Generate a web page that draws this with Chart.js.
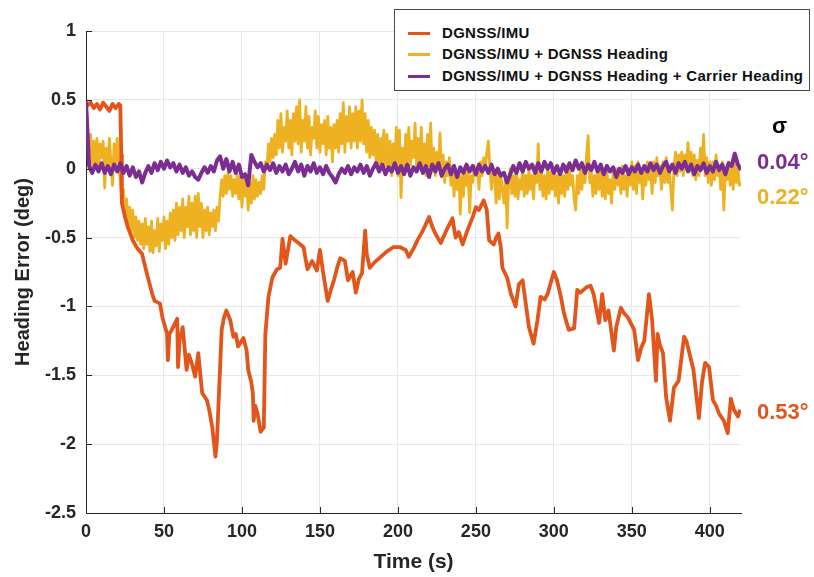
<!DOCTYPE html>
<html>
<head>
<meta charset="utf-8">
<script src="https://cdn.jsdelivr.net/npm/chart.js@4.4.1/dist/chart.umd.min.js"></script>
<style>
  html,body{margin:0;padding:0;background:#fff;}
  #wrap{position:relative;width:814px;height:577px;overflow:hidden;}
  #c{position:absolute;left:0;top:0;}
  #legend{position:absolute;left:394px;top:9px;width:416px;height:82px;border:1px solid #4a4a4a;background:#fff;
    font:bold 15px "Liberation Sans",Arial,sans-serif;letter-spacing:0.3px;color:#111;box-sizing:border-box;}
  .row{position:absolute;left:0;height:20px;line-height:20px;white-space:nowrap;}
  .sw{position:absolute;left:13px;top:9px;width:22px;height:3px;}
  .lt{position:absolute;left:47px;top:0;}
  .sig{position:absolute;font:bold 22px "Liberation Sans",Arial,sans-serif;white-space:nowrap;line-height:24px;}
</style>
</head>
<body>
<div id="wrap">
<canvas id="c" width="814" height="577"></canvas>
<div id="legend"></div>
<div class="sig" id="sgm" style="left:772px;top:114px;color:#000;">σ</div>
<div class="sig" id="s2" style="left:757px;top:150px;"></div>
<div class="sig" id="s1" style="left:757px;top:185px;"></div>
<div class="sig" id="s0" style="left:757px;top:400px;"></div>
</div>
<script>
// ---------- data ----------
const seriesNames = ["DGNSS/IMU", "DGNSS/IMU + DGNSS Heading", "DGNSS/IMU + DGNSS Heading + Carrier Heading"];
const seriesColors = ["#E2561C", "#EEB122", "#7B2D92"];
const sigmaLabels = ["0.53°", "0.22°", "0.04°"];
const xTicks = [0, 50, 100, 150, 200, 250, 300, 350, 400];
const yTicks = [-2.5, -2, -1.5, -1, -0.5, 0, 0.5, 1];

// DGNSS/IMU (time, value)
const imuTime = [0,1,3,5,7,9,11,13,15,17,19,21,22,22.6,23,25,27,30,33,36,39,42.5,44,47.5,49,52,52.5,53.5,55,58.5,59,60,62,64.5,66,68,70,72,74.5,77.5,79,81,83,84,85,86,87,88.5,90,92.5,94.5,96,97.5,101,103,104,106,107,107.5,108.5,110,112,114,115,117,119.5,122.5,124.5,126,127,128,131,134,137.5,139.5,142,145,148,150,152,155,157,159,161,163,166,168,171,173,175,177,179,180,182,185,189,193,197,201.5,205,207,210,212.5,216,220,222,224,227.5,231,235,237,239,241.5,244.5,248,250,252,255,257,258.5,261.5,263,264.5,266,267,270,272.5,275.5,277.5,280,282,284,287,289.5,291.5,294,296,300,302,304.5,306.5,309.5,313,315,317,319,321,323.5,325.5,329,331,333,335,338.5,340,343,345,347.5,351.5,354,356,358,361,363,365.5,366.5,368,370,372,374.5,377,380,383.5,385,386.5,389.5,393,395,397,399.5,402,404,406,409,411.5,413.5,415.5,418,419.5];
const imuErr = [0.49,0.46,0.48,0.44,0.47,0.43,0.48,0.45,0.42,0.47,0.44,0.47,0.46,0.1,-0.25,-0.35,-0.43,-0.52,-0.58,-0.62,-0.76,-0.91,-0.96,-0.98,-1.08,-1.2,-1.39,-1.2,-1.17,-1.09,-1.44,-1.25,-1.15,-1.46,-1.35,-1.42,-1.51,-1.34,-1.63,-1.68,-1.75,-1.88,-2.09,-1.97,-1.7,-1.44,-1.17,-1.08,-1.03,-1.1,-1.22,-1.2,-1.29,-1.23,-1.32,-1.46,-1.55,-1.63,-1.83,-1.72,-1.78,-1.91,-1.88,-1.2,-0.93,-0.79,-0.73,-0.72,-0.51,-0.6,-0.69,-0.49,-0.52,-0.55,-0.57,-0.73,-0.67,-0.74,-0.59,-0.75,-0.96,-0.88,-0.81,-0.72,-0.65,-0.67,-0.81,-0.75,-0.9,-0.8,-0.76,-0.45,-0.62,-0.72,-0.68,-0.64,-0.6,-0.57,-0.57,-0.59,-0.64,-0.58,-0.52,-0.45,-0.35,-0.42,-0.47,-0.54,-0.45,-0.36,-0.5,-0.46,-0.55,-0.45,-0.35,-0.28,-0.3,-0.23,-0.3,-0.52,-0.55,-0.5,-0.47,-0.57,-0.72,-0.79,-0.91,-1.0,-0.84,-0.81,-0.98,-1.15,-1.27,-1.1,-0.93,-0.95,-0.91,-0.75,-0.81,-0.93,-1.05,-1.17,-1.16,-0.88,-0.9,-0.88,-0.86,-0.85,-0.91,-1.12,-0.91,-1.1,-1.03,-1.32,-1.15,-1.01,-1.05,-1.08,-1.17,-1.39,-1.3,-1.25,-0.91,-1.1,-1.54,-1.2,-1.28,-1.34,-1.66,-1.83,-1.59,-1.54,-1.22,-1.25,-1.32,-1.46,-1.81,-1.55,-1.41,-1.44,-1.68,-1.72,-1.78,-1.83,-1.92,-1.67,-1.75,-1.8,-1.75];

// DGNSS/IMU + DGNSS Heading, one value per second (t = 0..420)
const dgnssHdgTime = [0,1,2,3,4,5,6,7,8,9,10,11,12,13,14,15,16,17,18,19,20,21,22,23,24,25,26,27,28,29,30,31,32,33,34,35,36,37,38,39,40,41,42,43,44,45,46,47,48,49,50,51,52,53,54,55,56,57,58,59,60,61,62,63,64,65,66,67,68,69,70,71,72,73,74,75,76,77,78,79,80,81,82,83,84,85,86,87,88,89,90,91,92,93,94,95,96,97,98,99,100,101,102,103,104,105,106,107,108,109,110,111,112,113,114,115,116,117,118,119,120,121,122,123,124,125,126,127,128,129,130,131,132,133,134,135,136,137,138,139,140,141,142,143,144,145,146,147,148,149,150,151,152,153,154,155,156,157,158,159,160,161,162,163,164,165,166,167,168,169,170,171,172,173,174,175,176,177,178,179,180,181,182,183,184,185,186,187,188,189,190,191,192,193,194,195,196,197,198,199,200,201,202,203,204,205,206,207,208,209,210,211,212,213,214,215,216,217,218,219,220,221,222,223,224,225,226,227,228,229,230,231,232,233,234,235,236,237,238,239,240,241,242,243,244,245,246,247,248,249,250,251,252,253,254,255,256,257,258,259,260,261,262,263,264,265,266,267,268,269,270,271,272,273,274,275,276,277,278,279,280,281,282,283,284,285,286,287,288,289,290,291,292,293,294,295,296,297,298,299,300,301,302,303,304,305,306,307,308,309,310,311,312,313,314,315,316,317,318,319,320,321,322,323,324,325,326,327,328,329,330,331,332,333,334,335,336,337,338,339,340,341,342,343,344,345,346,347,348,349,350,351,352,353,354,355,356,357,358,359,360,361,362,363,364,365,366,367,368,369,370,371,372,373,374,375,376,377,378,379,380,381,382,383,384,385,386,387,388,389,390,391,392,393,394,395,396,397,398,399,400,401,402,403,404,405,406,407,408,409,410,411,412,413,414,415,416,417,418,419,420];
const dgnssHdgErr = [
  0.48,0.3,
  0.12,0.25,0.02,0.2,0.05,0.22,-0.02,0.18,0.08,0.2,
  -0.14,0.15,0.0,0.22,0.05,-0.12,0.18,0.02,0.22,0.05,
  -0.1,-0.25,-0.15,-0.35,-0.22,-0.42,-0.28,-0.45,-0.3,-0.5,
  -0.35,-0.52,-0.38,-0.55,-0.4,-0.58,-0.36,-0.55,-0.42,-0.6,
  -0.38,-0.61,-0.45,-0.56,-0.36,-0.6,-0.4,-0.52,-0.35,-0.58,
  -0.38,-0.55,-0.32,-0.5,-0.3,-0.52,-0.25,-0.48,-0.28,-0.45,
  -0.22,-0.5,-0.28,-0.42,-0.2,-0.48,-0.25,-0.45,-0.2,-0.5,
  -0.18,-0.42,-0.25,-0.5,-0.3,-0.45,-0.28,-0.48,-0.32,-0.42,
  -0.3,-0.45,-0.28,-0.38,-0.2,-0.08,-0.2,-0.05,-0.18,-0.03,
  -0.15,-0.05,-0.2,-0.08,-0.18,-0.04,-0.22,-0.06,-0.28,-0.05,
  -0.2,-0.08,-0.3,-0.1,-0.25,-0.05,-0.22,-0.08,-0.2,-0.1,
  -0.18,-0.05,-0.15,0.05,0.0,0.18,0.05,0.22,0.08,0.25,
  0.1,0.35,0.15,0.4,0.12,0.3,0.2,0.42,0.15,0.35,
  0.1,0.4,0.2,0.45,0.18,0.5,0.12,0.35,0.2,0.45,
  0.15,0.38,0.1,0.3,0.22,0.42,0.15,0.38,0.12,0.32,
  0.18,0.35,0.1,0.38,0.15,0.3,0.05,0.32,0.15,0.35,
  0.12,0.4,0.18,0.48,0.12,0.38,0.2,0.45,0.15,0.4,
  0.2,0.45,0.15,0.42,0.2,0.5,0.18,0.4,0.12,0.35,
  0.08,0.3,0.1,0.28,0.05,0.25,0.0,0.22,0.05,0.28,
  0.02,0.25,0.0,0.2,-0.05,0.18,0.02,0.3,-0.05,0.28,
  -0.21,0.15,0.0,0.25,0.05,0.3,0.02,0.2,0.08,0.33,
  0.0,0.22,0.05,0.3,0.0,0.18,-0.05,0.25,0.02,0.33,
  -0.02,0.15,-0.05,0.12,0.0,0.26,-0.06,0.1,-0.1,0.05,
  -0.05,0.08,-0.12,0.02,-0.2,0.0,-0.15,-0.02,-0.33,-0.05,
  -0.2,0.02,-0.12,-0.02,-0.32,-0.05,-0.1,0.02,-0.05,0.0,
  -0.15,0.05,-0.05,0.08,0.0,0.12,0.2,0.0,-0.15,-0.02,
  -0.05,-0.25,0.0,-0.22,-0.05,-0.15,-0.25,-0.05,-0.43,-0.1,
  0.0,-0.18,-0.05,-0.2,0.0,-0.22,-0.08,-0.15,0.02,-0.2,
  -0.05,-0.18,0.0,-0.15,-0.05,-0.22,0.02,-0.1,0.18,-0.15,
  0.0,-0.2,-0.05,-0.22,0.0,-0.18,-0.02,-0.15,0.0,-0.2,
  -0.05,-0.25,-0.02,-0.18,-0.05,-0.2,0.02,-0.15,0.0,-0.12,
  -0.05,-0.22,-0.3,-0.05,-0.18,0.0,-0.15,0.02,-0.1,0.1,
  0.24,-0.1,-0.02,-0.2,-0.05,-0.18,0.0,-0.15,0.02,-0.2,
  -0.05,-0.22,0.0,-0.18,-0.08,-0.25,-0.02,-0.15,0.0,-0.12,
  -0.02,-0.18,0.02,-0.15,-0.05,-0.2,0.0,-0.12,0.05,-0.15,
  0.02,-0.18,0.05,-0.1,-0.02,-0.22,0.02,-0.12,0.05,-0.08,
  0.02,-0.18,0.05,-0.1,0.08,-0.05,0.02,-0.15,0.05,-0.1,
  0.08,-0.1,0.02,-0.15,-0.3,0.0,0.12,-0.05,0.1,-0.02,
  0.12,-0.05,0.1,0.0,0.19,-0.02,0.12,-0.05,0.1,-0.08,
  0.06,-0.05,0.15,0.0,0.25,-0.05,0.08,-0.1,0.05,-0.12,
  0.05,-0.08,0.1,-0.05,0.02,-0.15,0.05,-0.3,0.0,-0.08,
  0.05,-0.12,0.02,-0.15,0.05,-0.1,0.0,-0.12,-0.1
];

// DGNSS/IMU + DGNSS Heading + Carrier Heading, one value every 2 s
const carrierHdgTime = [0,2,4,6,8,10,12,14,16,18,20,22,24,26,28,30,32,34,36,38,40,42,44,46,48,50,52,54,56,58,60,62,64,66,68,70,72,74,76,78,80,82,84,86,88,90,92,94,96,98,100,102,104,106,108,110,112,114,116,118,120,122,124,126,128,130,132,134,136,138,140,142,144,146,148,150,152,154,156,158,160,162,164,166,168,170,172,174,176,178,180,182,184,186,188,190,192,194,196,198,200,202,204,206,208,210,212,214,216,218,220,222,224,226,228,230,232,234,236,238,240,242,244,246,248,250,252,254,256,258,260,262,264,266,268,270,272,274,276,278,280,282,284,286,288,290,292,294,296,298,300,302,304,306,308,310,312,314,316,318,320,322,324,326,328,330,332,334,336,338,340,342,344,346,348,350,352,354,356,358,360,362,364,366,368,370,372,374,376,378,380,382,384,386,388,390,392,394,396,398,400,402,404,406,408,410,412,414,416,418,420];
const carrierHdgErr = [0.48,0.02,-0.03,0.03,-0.02,0.04,-0.03,0.02,-0.04,0.03,-0.02,0.04,-0.03,0.02,-0.05,0.01,-0.06,-0.02,-0.1,-0.03,0.02,-0.03,0.04,-0.01,0.05,0.0,0.06,0.01,0.04,-0.02,0.03,-0.03,0.01,-0.05,-0.02,-0.06,-0.08,-0.03,0.01,-0.03,0.02,-0.02,0.06,0.09,0.0,0.07,-0.02,0.05,-0.03,0.03,-0.06,-0.04,-0.12,0.1,0.05,0.01,0.04,-0.02,0.03,-0.01,0.04,-0.03,0.02,-0.02,0.03,-0.04,0.0,0.05,-0.02,0.03,-0.05,0.02,-0.02,0.04,-0.03,0.01,-0.04,0.02,-0.03,-0.06,-0.1,-0.04,0.0,-0.03,0.02,-0.04,0.01,-0.02,0.03,-0.03,0.02,-0.05,0.0,0.04,-0.02,0.03,-0.04,0.01,-0.02,0.04,-0.03,0.02,-0.04,0.03,-0.05,0.01,-0.02,0.04,-0.03,0.02,-0.06,0.03,-0.02,0.04,-0.05,0.0,0.03,-0.04,0.02,-0.06,0.01,-0.03,0.03,-0.02,0.02,-0.04,0.03,-0.02,0.02,-0.03,0.03,-0.04,0.0,-0.05,-0.03,-0.1,-0.04,0.02,-0.03,0.04,-0.02,0.05,0.0,0.03,-0.03,0.04,-0.02,0.05,0.0,0.04,-0.03,0.02,-0.04,0.03,-0.02,0.04,-0.01,0.06,0.0,0.04,-0.03,0.03,-0.01,0.05,-0.02,0.03,-0.04,0.02,-0.02,0.01,-0.06,0.0,-0.03,0.02,-0.04,0.01,-0.02,0.03,-0.03,0.02,-0.02,0.04,-0.01,0.03,-0.03,0.02,0.05,-0.02,0.03,-0.03,0.04,0.0,0.05,-0.02,0.03,-0.04,0.02,-0.01,0.04,-0.03,0.02,-0.02,0.05,-0.01,0.03,-0.04,0.04,0.02,0.11,0.03,-0.01];

// ---------- build ----------
const pts = (t, v) => t.map((x, i) => ({x: x, y: v[i]}));
const series = [pts(imuTime, imuErr), pts(dgnssHdgTime, dgnssHdgErr), pts(carrierHdgTime, carrierHdgErr)];
const drawOrder = [1, 2, 0];
const lineW = [3.8, 2.8, 4.0];

// legend + sigma (HTML text)
const leg = document.getElementById('legend');
const rowTops = [13, 34, 56];
seriesNames.forEach((n, i) => {
  const r = document.createElement('div');
  r.className = 'row'; r.style.top = rowTops[i] + 'px';
  r.innerHTML = '<div class="sw" style="background:' + seriesColors[i] + '"></div><div class="lt">' + n + '</div>';
  leg.appendChild(r);
});
['s0', 's1', 's2'].forEach((id, i) => {
  const el = document.getElementById(id);
  el.textContent = sigmaLabels[i];
  el.style.color = seriesColors[i];
});

const AX = '#262626';
const FONT = '"Liberation Sans", Arial, sans-serif';

const tickMarks = {
  id: 'tickMarks',
  afterDatasetsDraw(chart) {
    const {ctx, chartArea: a, scales: {x, y}} = chart;
    ctx.save();
    ctx.strokeStyle = AX; ctx.lineWidth = 1;
    ctx.beginPath();
    xTicks.forEach(v => { const px = Math.round(x.getPixelForValue(v)) + 0.5; ctx.moveTo(px, a.bottom); ctx.lineTo(px, a.bottom - 6); });
    yTicks.forEach(v => { const py = Math.round(y.getPixelForValue(v)) + 0.5; ctx.moveTo(a.left, py); ctx.lineTo(a.left + 6, py); });
    ctx.stroke();
    ctx.restore();
  }
};

new Chart(document.getElementById('c'), {
  type: 'line',
  data: {
    datasets: series.map((d, i) => ({
      label: seriesNames[i],
      data: d,
      borderColor: seriesColors[i],
      backgroundColor: seriesColors[i],
      borderWidth: lineW[i],
      pointRadius: 0,
      tension: 0,
      fill: false,
      order: drawOrder[i],
      borderJoinStyle: 'round'
    }))
  },
  options: {
    responsive: false,
    animation: false,
    devicePixelRatio: 1,
    layout: {padding: {left: 0, top: 31, right: 73, bottom: 0}},
    plugins: {legend: {display: false}, tooltip: {enabled: false}},
    scales: {
      x: {
        type: 'linear', min: 0, max: 420,
        afterFit: s => { s.height = 64; },
        afterBuildTicks: s => { s.ticks = xTicks.map(v => ({value: v})); },
        ticks: {color: AX, font: {family: FONT, size: 18, weight: 'bold'}, padding: 8, maxRotation: 0, includeBounds: false},
        grid: {color: '#e8e8e8', drawTicks: false, lineWidth: 1},
        border: {display: true, color: AX, width: 1},
        title: {display: true, text: 'Time (s)', color: AX, font: {family: FONT, size: 21, weight: 'bold'}, padding: {top: 0, bottom: 2}}
      },
      y: {
        type: 'linear', min: -2.5, max: 1,
        afterFit: s => { s.width = 86; },
        afterBuildTicks: s => { s.ticks = yTicks.map(v => ({value: v})); },
        ticks: {color: AX, font: {family: FONT, size: 18, weight: 'bold'}, padding: 10, callback: v => String(+v.toFixed(2))},
        grid: {color: '#e8e8e8', drawTicks: false, lineWidth: 1},
        border: {display: true, color: AX, width: 1},
        title: {display: true, text: 'Heading Error (deg)', color: AX, font: {family: FONT, size: 20, weight: 'bold'}, padding: {top: 11, bottom: 0}}
      }
    }
  },
  plugins: [tickMarks]
});
</script>
</body>
</html>
